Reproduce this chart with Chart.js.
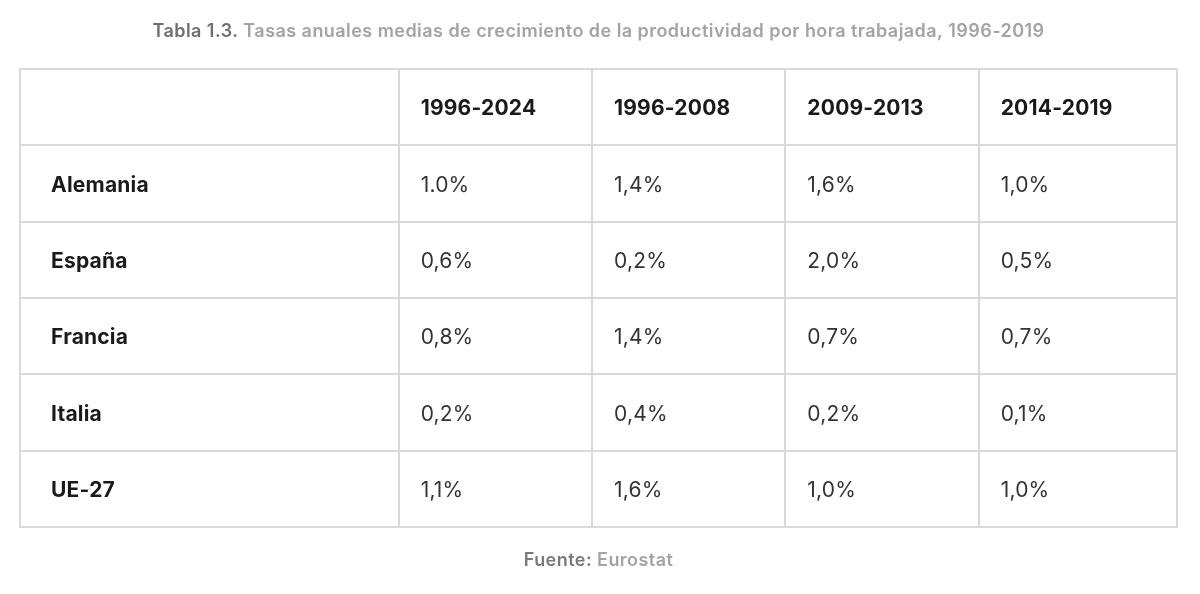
<!DOCTYPE html>
<html>
<head>
<meta charset="utf-8">
<script src="https://cdn.jsdelivr.net/npm/chart.js@4"></script>
<style>
  html, body { margin: 0; padding: 0; background: #fff; }
  #wrap { width: 1200px; height: 594px; position: relative; }
</style>
</head>
<body>
<div id="wrap"><canvas id="tabla"></canvas></div>
<script>
// datos de la tabla
const periods = ['1996-2024', '1996-2008', '2009-2013', '2014-2019'];
const countries = ['Alemania', 'España', 'Francia', 'Italia', 'UE-27'];
const alemania = ['1.0%', '1,4%', '1,6%', '1,0%'];
const espana = ['0,6%', '0,2%', '2,0%', '0,5%'];
const francia = ['0,8%', '1,4%', '0,7%', '0,7%'];
const italia = ['0,2%', '0,4%', '0,2%', '0,1%'];
const ue27 = ['1,1%', '1,6%', '1,0%', '1,0%'];
const rows = [alemania, espana, francia, italia, ue27];

const titleBold = 'Tabla 1.3.';
const titleRest = ' Tasas anuales medias de crecimiento de la productividad por hora trabajada, 1996-2019';
const sourceBold = 'Fuente:';
const sourceRest = ' Eurostat';

// layout (anchos de columna en unidades del eje x)
const colWidths = [378, 193, 193, 193, 198];
const colEdges = colWidths.reduce((a, w) => { a.push(a[a.length - 1] + w); return a; }, [0]);
const labelPad = 31, cellPad = 22;

// celdas: cabecera, etiquetas y valores
const cells = [];
periods.forEach((p, c) => cells.push({ x: colEdges[c + 1] + cellPad, y: 0.5, text: p, kind: 'head' }));
countries.forEach((name, r) => {
  cells.push({ x: colEdges[0] + labelPad, y: r + 1.5, text: name, kind: 'head' });
  rows[r].forEach((v, c) => cells.push({ x: colEdges[c + 1] + cellPad, y: r + 1.5, text: v, kind: 'val' }));
});

const FONT = 'Inter, "Noto Sans", sans-serif';

const cellText = {
  id: 'cellText',
  afterDatasetsDraw(chart) {
    const ctx = chart.ctx;
    const meta = chart.getDatasetMeta(0);
    ctx.save();
    ctx.textBaseline = 'middle';
    ctx.textAlign = 'left';
    ctx.letterSpacing = '0.2px';
    meta.data.forEach((el, i) => {
      const d = chart.data.datasets[0].data[i];
      if (d.kind === 'head') {
        ctx.font = '700 21px ' + FONT;
        ctx.fillStyle = '#1a1a1a';
      } else {
        ctx.font = '400 21px ' + FONT;
        ctx.fillStyle = '#333333';
      }
      ctx.fillText(d.text, el.x, el.y + 2);
    });
    ctx.restore();
  },
  afterDraw(chart) {
    const ctx = chart.ctx;
    const cx = (chart.chartArea.left + chart.chartArea.right) / 2;
    const line = (a, b, y, colA, colB) => {
      ctx.font = '600 18px ' + FONT;
      ctx.letterSpacing = '0.45px';
      const wa = ctx.measureText(a).width, wb = ctx.measureText(b).width;
      let x = cx - (wa + wb) / 2;
      ctx.fillStyle = colA; ctx.fillText(a, x, y);
      ctx.fillStyle = colB; ctx.fillText(b, x + wa, y);
    };
    ctx.save();
    ctx.textBaseline = 'middle';
    ctx.textAlign = 'left';
    line(titleBold, titleRest, 32, '#6e6e6e', '#a3a3a3');
    line(sourceBold, sourceRest, 561, '#7a7a7a', '#a3a3a3');
    ctx.restore();
  }
};

const gridColor = '#d9d9d9';

new Chart(document.getElementById('tabla'), {
  type: 'scatter',
  data: {
    datasets: [{
      label: 'celdas',
      data: cells,
      pointRadius: 0,
      pointHoverRadius: 0
    }]
  },
  options: {
    responsive: true,
    maintainAspectRatio: false,
    animation: false,
    events: [],
    layout: { padding: { left: 20, right: 23, top: 69, bottom: 67 } },
    plugins: { legend: { display: false }, tooltip: { enabled: false } },
    scales: {
      x: {
        type: 'linear',
        min: 0,
        max: colEdges[colEdges.length - 1],
        afterBuildTicks: axis => { axis.ticks = colEdges.map(v => ({ value: v })); },
        ticks: { display: false },
        grid: { color: gridColor, lineWidth: 2, drawTicks: false },
        border: { display: true, color: gridColor, width: 2 }
      },
      y: {
        type: 'linear',
        reverse: true,
        min: 0,
        max: countries.length + 1,
        afterBuildTicks: axis => { axis.ticks = [0, 1, 2, 3, 4, 5, 6].map(v => ({ value: v })); },
        ticks: { display: false },
        grid: { color: gridColor, lineWidth: 2, drawTicks: false },
        border: { display: true, color: gridColor, width: 2 }
      }
    }
  },
  plugins: [cellText]
});
</script>
</body>
</html>
